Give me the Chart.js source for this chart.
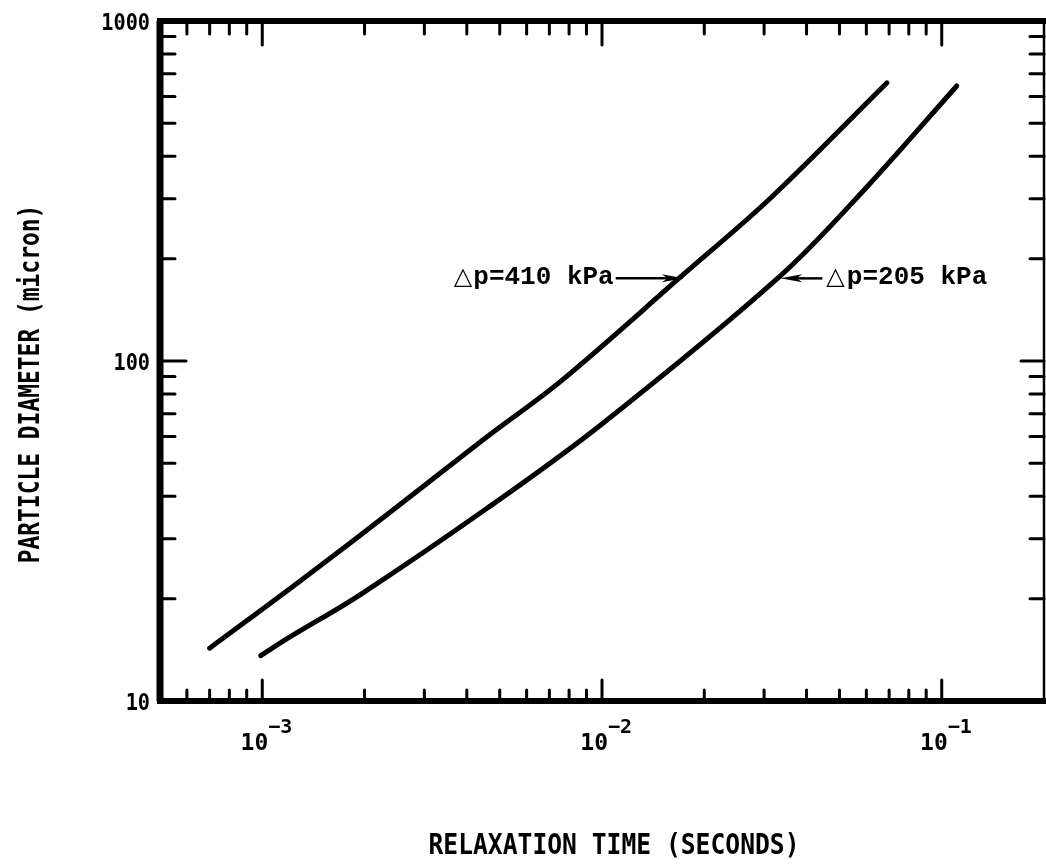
<!DOCTYPE html>
<html>
<head>
<meta charset="utf-8">
<script src="https://cdn.jsdelivr.net/npm/chart.js@4.4.1/dist/chart.umd.min.js"></script>
<style>
  html, body { margin: 0; padding: 0; background: #fff; }
  #wrap { width: 1046px; height: 865px; }
</style>
</head>
<body>
<div id="wrap"><canvas id="relaxChart" width="1046" height="865"></canvas></div>
<script>
// relaxation time (s) vs particle diameter (micron)
const time410 = [0.0007, 0.00129, 0.00255, 0.00461, 0.00757, 0.0174, 0.0313, 0.069];
const diam410 = [14.3, 22.5, 37.9, 60.1, 87.3, 180, 301, 658];

const time205 = [0.00099, 0.00119, 0.00195, 0.00461, 0.0100, 0.0335, 0.0602, 0.1107];
const diam205 = [13.6, 15.3, 20.6, 37.0, 65.3, 178, 325, 644];

const xDecades = [0.001, 0.01, 0.1];
const xExponents = ["\u22123", "\u22122", "\u22121"];
const yDecades = [10, 100, 1000];
const yTickLabels = ["10", "100", "1000"];

const xTitle = "RELAXATION TIME (SECONDS)";
const yTitle = "PARTICLE DIAMETER (micron)";

// labels with arrows pointing at the curves (anchor in data units)
const labels = [
    { text: "p=410 kPa", x: 0.0174, y: 175, side: "left" },
    { text: "p=205 kPa", x: 0.0335, y: 175, side: "right" },
];

const toPoints = (xs, ys) => xs.map((x, i) => ({ x: x, y: ys[i] }));

function minorValues(min, max) {
    const out = [];
    for (let d = Math.pow(10, Math.floor(Math.log10(min))); d <= max; d *= 10) {
        for (let m = 1; m <= 9; m++) {
            const v = d * m;
            if (v > min * 1.0001 && v < max * 0.9999) out.push({ v: v, major: m === 1 });
        }
    }
    return out;
}

function arrowHead(ctx, tipX, tipY, dir) {
    ctx.beginPath();
    ctx.moveTo(tipX, tipY);
    ctx.lineTo(tipX - dir * 22, tipY - 4);
    ctx.lineTo(tipX - dir * 16, tipY);
    ctx.lineTo(tipX - dir * 22, tipY + 4);
    ctx.closePath();
    ctx.fill();
}

const framePlugin = {
    id: "frame",
    afterDraw(chart) {
        const ctx = chart.ctx;
        const area = chart.chartArea;
        const xs = chart.scales.x;
        const ys = chart.scales.y;
        ctx.save();
        ctx.strokeStyle = "#000";
        ctx.fillStyle = "#000";
        ctx.lineCap = "butt";

        // frame: heavy left/bottom/top, light right
        ctx.lineWidth = 7;
        ctx.beginPath();
        ctx.moveTo(area.left, area.top);
        ctx.lineTo(area.left, area.bottom);
        ctx.stroke();
        ctx.lineWidth = 6;
        ctx.beginPath();
        ctx.moveTo(area.left - 3, area.bottom);
        ctx.lineTo(area.right + 2, area.bottom);
        ctx.moveTo(area.left - 3, area.top);
        ctx.lineTo(area.right + 2, area.top);
        ctx.stroke();
        ctx.lineWidth = 2.5;
        ctx.beginPath();
        ctx.moveTo(area.right, area.top);
        ctx.lineTo(area.right, area.bottom);
        ctx.stroke();

        // inward ticks
        ctx.lineWidth = 3;
        ctx.lineCap = "round";
        minorValues(xs.min, xs.max).forEach(t => {
            const px = xs.getPixelForValue(t.v);
            ctx.beginPath();
            ctx.moveTo(px, area.bottom);
            ctx.lineTo(px, area.bottom - (t.major ? 21 : 11));
            ctx.moveTo(px, area.top);
            ctx.lineTo(px, area.top + (t.major ? 24 : 13));
            ctx.stroke();
        });
        minorValues(ys.min, ys.max).forEach(t => {
            const py = ys.getPixelForValue(t.v);
            ctx.beginPath();
            ctx.moveTo(area.left, py);
            ctx.lineTo(area.left + (t.major ? 26 : 15), py);
            ctx.moveTo(area.right, py);
            ctx.lineTo(area.right - (t.major ? 23 : 14), py);
            ctx.stroke();
        });

        // y tick labels
        ctx.textAlign = "right";
        ctx.textBaseline = "middle";
        yDecades.forEach((v, i) => {
            ctx.save();
            ctx.translate(area.left - 10, ys.getPixelForValue(v) + 3);
            ctx.scale(0.88, 1);
            ctx.font = "bold 23px 'DejaVu Sans Mono'";
            ctx.fillText(yTickLabels[i], 0, 0);
            ctx.restore();
        });

        // x tick labels as 10 with superscript exponent
        ctx.textBaseline = "alphabetic";
        xDecades.forEach((v, i) => {
            const px = xs.getPixelForValue(v);
            ctx.font = "bold 23px 'DejaVu Sans Mono'";
            ctx.textAlign = "right";
            ctx.fillText("10", px + 6, 750);
            ctx.font = "bold 20px 'DejaVu Sans Mono'";
            ctx.textAlign = "left";
            ctx.fillText(xExponents[i], px + 6, 733);
        });

        // axis titles (condensed look)
        ctx.font = "bold 29px 'DejaVu Sans Mono'";
        ctx.textAlign = "center";
        ctx.textBaseline = "middle";
        ctx.save();
        ctx.translate(614, 846);
        ctx.scale(0.85, 1);
        ctx.fillText(xTitle, 0, 0);
        ctx.restore();
        ctx.save();
        ctx.translate(31, 384);
        ctx.rotate(-Math.PI / 2);
        ctx.scale(0.79, 1);
        ctx.fillText(yTitle, 0, 0);
        ctx.restore();

        // curve labels with arrows
        labels.forEach(lb => {
            const tipX = xs.getPixelForValue(lb.x);
            const tipY = ys.getPixelForValue(lb.y);
            ctx.lineWidth = 2.5;
            ctx.lineCap = "butt";
            ctx.textBaseline = "alphabetic";
            ctx.textAlign = "left";
            if (lb.side === "left") {
                ctx.beginPath();
                ctx.moveTo(tipX - 68, tipY);
                ctx.lineTo(tipX - 12, tipY);
                ctx.stroke();
                arrowHead(ctx, tipX, tipY, 1);
                ctx.font = "bold 26px 'Liberation Mono'";
                const w = ctx.measureText(lb.text).width;
                const tx = tipX - 70 - w;
                ctx.fillText(lb.text, tx, tipY + 6);
                ctx.font = "24px 'DejaVu Sans'";
                ctx.textAlign = "right";
                ctx.fillText("\u25B3", tx - 1, tipY + 6);
            } else {
                ctx.beginPath();
                ctx.moveTo(tipX + 12, tipY);
                ctx.lineTo(tipX + 42, tipY);
                ctx.stroke();
                arrowHead(ctx, tipX, tipY, -1);
                ctx.font = "24px 'DejaVu Sans'";
                ctx.fillText("\u25B3", tipX + 46, tipY + 6);
                const dw = ctx.measureText("\u25B3").width;
                ctx.font = "bold 26px 'Liberation Mono'";
                ctx.fillText(lb.text, tipX + 48 + dw, tipY + 6);
            }
        });
        ctx.restore();
    },
};

const lineStyle = {
    showLine: true,
    borderColor: "#000",
    backgroundColor: "#000",
    borderWidth: 5,
    borderCapStyle: "round",
    pointRadius: 0,
    tension: 0.35,
    fill: false,
};

const chart = new Chart(document.getElementById("relaxChart").getContext("2d"), {
    type: "scatter",
    data: {
        datasets: [
            Object.assign({ label: "\u0394p=410 kPa", data: toPoints(time410, diam410) }, lineStyle),
            Object.assign({ label: "\u0394p=205 kPa", data: toPoints(time205, diam205) }, lineStyle),
        ],
    },
    options: {
        responsive: false,
        animation: false,
        layout: { padding: { left: 160, top: 21, right: 2, bottom: 164 } },
        plugins: { legend: { display: false }, tooltip: { enabled: false } },
        scales: {
            x: { type: "logarithmic", min: 0.0005, max: 0.2, display: false },
            y: { type: "logarithmic", min: 10, max: 1000, display: false },
        },
    },
    plugins: [framePlugin],
});
</script>
</body>
</html>
